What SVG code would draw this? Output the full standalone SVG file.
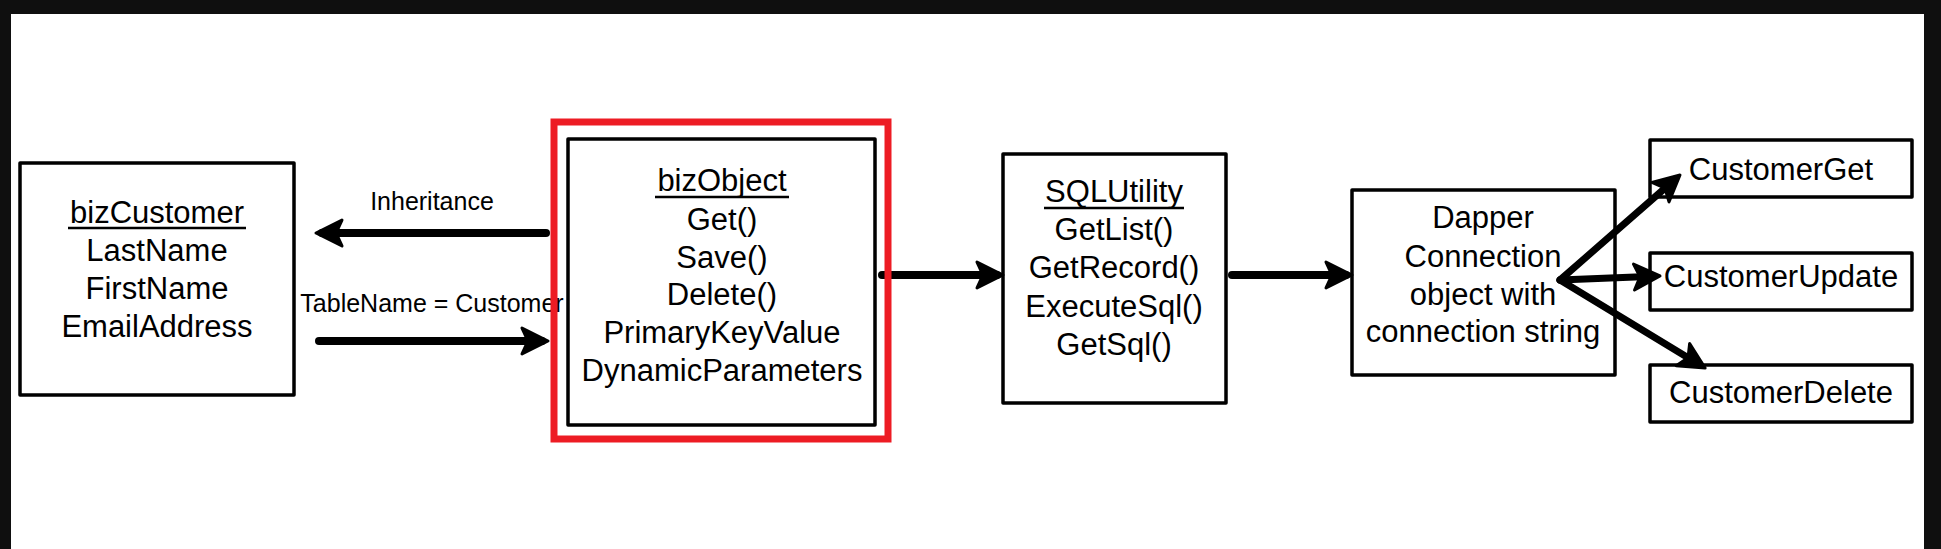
<svg xmlns="http://www.w3.org/2000/svg" width="1941" height="549" viewBox="0 0 1941 549">
  <defs>
    <style>
      .box { fill: #ffffff; stroke: #000000; stroke-width: 3.5; stroke-linejoin: round; }
      .t { font-family: "Liberation Sans", Arial, sans-serif; font-size: 31px; fill: #000000; text-anchor: middle; }
      .lbl { font-family: "Liberation Sans", Arial, sans-serif; font-size: 25px; fill: #000000; text-anchor: middle; }
      .ul { stroke: #000000; stroke-width: 2.5; }
      .arr { fill: none; stroke: #000000; stroke-width: 8; stroke-linecap: round; marker-end: url(#ah); }
      .arr2 { fill: none; stroke: #000000; stroke-width: 7; stroke-linecap: round; marker-end: url(#ah); }
    </style>
    <marker id="ah" markerUnits="userSpaceOnUse" markerWidth="36" markerHeight="30" viewBox="0 0 36 30" refX="25" refY="15" orient="auto" overflow="visible">
      <path d="M31,15 L5,2 L11,15 L5,28 Z" fill="#000000" stroke="#000000" stroke-width="3" stroke-linejoin="round"/>
    </marker>
  </defs>

  <rect x="0" y="0" width="1941" height="549" fill="#0f0f0f"/>
  <rect x="11" y="14" width="1913" height="535" fill="#ffffff"/>

  <g id="bizCustomer">
    <rect class="box" x="20" y="163" width="274" height="232"/>
    <text class="t" x="157" y="223">bizCustomer</text>
    <line class="ul" x1="68" y1="228" x2="246" y2="228"/>
    <text class="t" x="157" y="261">LastName</text>
    <text class="t" x="157" y="299">FirstName</text>
    <text class="t" x="157" y="337">EmailAddress</text>
  </g>

  <g id="bizObject">
    <rect class="box" x="568" y="139" width="307" height="286"/>
    <text class="t" x="722" y="191">bizObject</text>
    <line class="ul" x1="655" y1="197" x2="789" y2="197"/>
    <text class="t" x="722" y="230">Get()</text>
    <text class="t" x="722" y="268">Save()</text>
    <text class="t" x="722" y="305">Delete()</text>
    <text class="t" x="722" y="343">PrimaryKeyValue</text>
    <text class="t" x="722" y="381">DynamicParameters</text>
  </g>

  <g id="SQLUtility">
    <rect class="box" x="1003" y="154" width="223" height="249"/>
    <text class="t" x="1114" y="202">SQLUtility</text>
    <line class="ul" x1="1044" y1="208" x2="1184" y2="208"/>
    <text class="t" x="1114" y="240">GetList()</text>
    <text class="t" x="1114" y="278">GetRecord()</text>
    <text class="t" x="1114" y="317">ExecuteSql()</text>
    <text class="t" x="1114" y="355">GetSql()</text>
  </g>

  <g id="Dapper">
    <rect class="box" x="1352" y="190" width="263" height="185"/>
    <text class="t" x="1483" y="228">Dapper</text>
    <text class="t" x="1483" y="267">Connection</text>
    <text class="t" x="1483" y="305">object with</text>
    <text class="t" x="1483" y="342">connection string</text>
  </g>

  <g id="CustomerGet">
    <rect class="box" x="1650" y="140" width="262" height="57"/>
    <text class="t" x="1781" y="180">CustomerGet</text>
  </g>

  <g id="CustomerUpdate">
    <rect class="box" x="1650" y="253" width="262" height="57"/>
    <text class="t" x="1781" y="287">CustomerUpdate</text>
  </g>

  <g id="CustomerDelete">
    <rect class="box" x="1650" y="365" width="262" height="57"/>
    <text class="t" x="1781" y="403">CustomerDelete</text>
  </g>

  <g id="connectors">
    <line class="arr" x1="546" y1="233" x2="322" y2="233"/>
    <line class="arr" x1="319" y1="341" x2="542" y2="341"/>
    <line class="arr" x1="882" y1="275" x2="997" y2="275"/>
    <line class="arr" x1="1232" y1="275" x2="1346" y2="275"/>
    <line class="arr2" x1="1560" y1="280" x2="1675.5" y2="179"/>
    <line class="arr2" x1="1560" y1="280" x2="1654" y2="276.2"/>
    <line class="arr2" x1="1560" y1="280" x2="1700" y2="365"/>
    <text class="lbl" x="432" y="210">Inheritance</text>
    <text class="lbl" x="432" y="312">TableName = Customer</text>
  </g>

  <g id="highlight">
    <rect x="554" y="122" width="334" height="317" fill="none" stroke="#ED1C24" stroke-width="7"/>
  </g>
</svg>
